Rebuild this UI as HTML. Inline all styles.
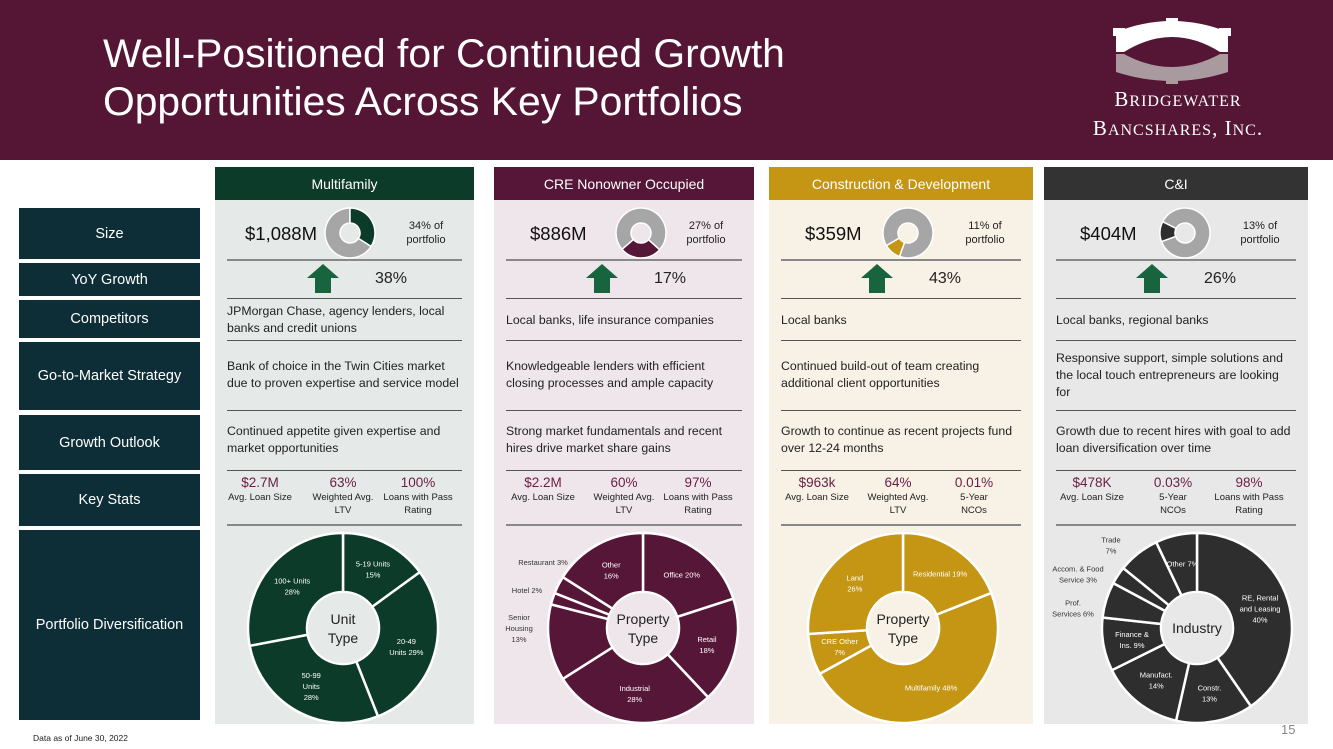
<!DOCTYPE html>
<html><head><meta charset="utf-8">
<style>
*{margin:0;padding:0;box-sizing:border-box}
body{width:1333px;height:749px;position:relative;background:#fff;font-family:"Liberation Sans",sans-serif;overflow:hidden}
.hdr{position:absolute;left:0;top:0;width:1333px;height:160px;background:#551535}
.title{position:absolute;left:103px;top:30px;color:#fff;font-size:40px;line-height:48px;transform:scaleX(1.02);transform-origin:left}
.logo{position:absolute;left:1068px;top:86px;color:#fff;font-family:"Liberation Serif",serif;font-size:21px;line-height:26px;text-align:center;width:220px;letter-spacing:1px}
.lab{position:absolute;left:19px;width:181px;background:#0d2e36;color:#fff;font-size:14.5px;display:flex;align-items:center;justify-content:center}
.col{position:absolute;top:167px;height:557px}
.ch{position:absolute;left:0;top:0;width:100%;height:33px;color:#fff;font-size:14px;display:flex;align-items:center;justify-content:center}
.cb{position:absolute;left:0;top:33px;width:100%;height:524px}
.ln{position:absolute;left:12px;right:12px;height:1px;background:#555}
.ln.g{height:2px;background:#888}
.amt{position:absolute;top:56px;font-size:18.5px;color:#111}
.pct{position:absolute;top:52px;font-size:11px;color:#222;text-align:center;line-height:14px;width:80px}
.yoy{position:absolute;top:103px;font-size:16px;color:#222}
.band{position:absolute;left:12px;right:12px;display:flex;align-items:center;font-size:12.3px;color:#222;line-height:17px}
.st{position:absolute;top:307px;text-align:center;width:76px;font-size:9.5px;line-height:13px;color:#222}
.st b{display:block;font-weight:normal;font-size:13.5px;color:#6a1d43;line-height:17px}
svg text{font-family:"Liberation Sans",sans-serif}
</style></head><body>
<div class="hdr">
<div class="title">Well-Positioned for Continued Growth<br>Opportunities Across Key Portfolios</div>
<svg style="position:absolute;left:1108px;top:18px" width="128" height="66">
<path d="M8 14 Q64 -8 120 14 L120 34 L112 34 Q64 4 16 34 L8 34Z" fill="#fff"/>
<path d="M8 36 L16 36 Q64 62 112 36 L120 36 L120 54 Q64 72 8 54Z" fill="#a89a9f"/>
<rect x="5" y="10" width="12" height="8" fill="#fff"/><rect x="111" y="10" width="12" height="8" fill="#fff"/><rect x="58" y="0" width="12" height="8" fill="#fff"/><rect x="58" y="58" width="12" height="8" fill="#a89a9f"/>
</svg>
<div class="logo">B<span style="font-size:16px">RIDGEWATER</span><br>B<span style="font-size:16px">ANCSHARES</span>, I<span style="font-size:16px">NC</span>.</div>
</div>

<div class="lab" style="top:208px;height:51px">Size</div>
<div class="lab" style="top:263px;height:33px">YoY Growth</div>
<div class="lab" style="top:300px;height:38px">Competitors</div>
<div class="lab" style="top:342px;height:68px">Go-to-Market Strategy</div>
<div class="lab" style="top:415px;height:55px">Growth Outlook</div>
<div class="lab" style="top:474px;height:52px">Key Stats</div>
<div class="lab" style="top:530px;height:190px">Portfolio Diversification</div>

<div id="cols"></div>
<svg id="charts" style="position:absolute;left:0;top:0" width="1333" height="749"></svg>

<div style="position:absolute;left:33px;top:733px;font-size:8.5px;color:#222">Data as of June 30, 2022</div>
<div style="position:absolute;left:1281px;top:722px;font-size:13px;color:#888">15</div>

<script>
// ---- data ----
const colNames=["Multifamily","CRE Nonowner Occupied","Construction & Development","C&I"];
const sizes=["$1,088M","$886M","$359M","$404M"];
const shareOfPortfolio=[34,27,11,13];
const shareStart=[0,132,200,250];
const yoyGrowth=["38%","17%","43%","26%"];
const competitors=["JPMorgan Chase, agency lenders, local banks and credit unions","Local banks, life insurance companies","Local banks","Local banks, regional banks"];
const gtm=["Bank of choice in the Twin Cities market due to proven expertise and service model","Knowledgeable lenders with efficient closing processes and ample capacity","Continued build-out of team creating additional client opportunities","Responsive support, simple solutions and the local touch entrepreneurs are looking for"];
const outlook=["Continued appetite given expertise and market opportunities","Strong market fundamentals and recent hires drive market share gains","Growth to continue as recent projects fund over 12-24 months","Growth due to recent hires with goal to add loan diversification over time"];
const statValues=[["$2.7M","63%","100%"],["$2.2M","60%","97%"],["$963k","64%","0.01%"],["$478K","0.03%","98%"]];
const statLabels=[["Avg. Loan Size","Weighted Avg.<br>LTV","Loans with Pass<br>Rating"],["Avg. Loan Size","Weighted Avg.<br>LTV","Loans with Pass<br>Rating"],["Avg. Loan Size","Weighted Avg.<br>LTV","5-Year<br>NCOs"],["Avg. Loan Size","5-Year<br>NCOs","Loans with Pass<br>Rating"]];
const centerTitles=[["Unit","Type"],["Property","Type"],["Property","Type"],["Industry"]];
const mfCats=[["5-19 Units","15%"],["20-49","Units 29%"],["50-99","Units","28%"],["100+ Units","28%"]];
const mfVals=[15,29,28,28];
const creCats=[["Office  20%"],["Retail","18%"],["Industrial","28%"],["Senior","Housing","13%"],["Hotel 2%"],["Restaurant 3%"],["Other","16%"]];
const creVals=[20,18,28,13,2,3,16];
const cdCats=[["Residential  19%"],["Multifamily 48%"],["CRE Other","7%"],["Land","26%"]];
const cdVals=[19,48,7,26];
const ciCats=[["RE, Rental","and Leasing","40%"],["Constr.","13%"],["Manufact.","14%"],["Finance &","Ins. 9%"],["Prof.","Services 6%"],["Accom. & Food","Service 3%"],["Trade","7%"],["Other 7%"]];
const ciVals=[40,13,14,9,6,3,7,7];
// ---- layout ----
const colX=[215,494,769,1044], colW=[259,260,264,264];
const hdrC=["#0d3b2a","#561637","#c49614","#333333"];
const bgC=["#e5e9e8","#efe6ec","#f8f1e6","#e8e8e8"];
const fillC=["#0d3b2a","#561637","#c49614","#2e2e2e"];
const allVals=[mfVals,creVals,cdVals,ciVals], allCats=[mfCats,creCats,cdCats,ciCats];
const cols=document.getElementById('cols');
colNames.forEach((n,i)=>{
 const c=document.createElement('div');c.className='col';
 
 
 c.style.left=colX[i]+'px';c.style.width=colW[i]+'px';
 const w=colW[i];
 const sl=i==0?[45,128,203]:i==1?[49,130,204]:[48,129,205];
 let h=`<div class="ch" style="background:${hdrC[i]}">${n}</div>
 <div class="cb" style="background:${bgC[i]}"></div>
 <div class="amt" style="left:${i==0?30:36}px">${sizes[i]}</div>
 <div class="pct" style="left:${w-88}px">${shareOfPortfolio[i]}% of<br>portfolio</div>
 <div class="ln g" style="top:92px"></div>
 <div style="position:absolute;left:92px;top:97px;width:0;height:0;border-left:16px solid transparent;border-right:16px solid transparent;border-bottom:14px solid #17643f"></div>
 <div style="position:absolute;left:100px;top:110px;width:16px;height:16px;background:#17643f"></div>
 <div class="yoy" style="left:160px">${yoyGrowth[i]}</div>
 <div class="ln" style="top:131px"></div>
 <div class="band" style="top:133px;height:40px">${competitors[i]}</div>
 <div class="ln" style="top:173px"></div>
 <div class="band" style="top:174px;height:68px">${gtm[i]}</div>
 <div class="ln" style="top:243px"></div>
 <div class="band" style="top:244px;height:58px">${outlook[i]}</div>
 <div class="ln" style="top:303px"></div>`;
 statValues[i].forEach((v,k)=>{h+=`<div class="st" style="left:${sl[k]-38}px"><b>${v}</b>${statLabels[i][k]}</div>`;});
 h+=`<div class="ln g" style="top:357px"></div>`;
 c.innerHTML=h;cols.appendChild(c);
});
const svg=document.getElementById('charts'),NS='http://www.w3.org/2000/svg';
function P(cx,cy,r,a){const t=a*Math.PI/180;return [cx+r*Math.sin(t),cy-r*Math.cos(t)];}
function slice(cx,cy,R,r,a0,a1,fill,sw){
 const p=document.createElementNS(NS,'path');
 const [x1,y1]=P(cx,cy,R,a0),[x2,y2]=P(cx,cy,R,a1),[x3,y3]=P(cx,cy,r,a1),[x4,y4]=P(cx,cy,r,a0);
 const lg=a1-a0>180?1:0;
 p.setAttribute('d',`M${x1} ${y1}A${R} ${R} 0 ${lg} 1 ${x2} ${y2}L${x3} ${y3}A${r} ${r} 0 ${lg} 0 ${x4} ${y4}Z`);
 p.setAttribute('fill',fill);p.setAttribute('stroke','#fff');p.setAttribute('stroke-width',sw);
 svg.appendChild(p);return p;
}
function txt(x,y,lines,size,col,lh){
 const t=document.createElementNS(NS,'text');t.setAttribute('x',x);t.setAttribute('y',y);t.setAttribute('text-anchor','middle');
 t.setAttribute('font-size',size);t.setAttribute('fill',col);
 lines.forEach((l,k)=>{const s=document.createElementNS(NS,'tspan');s.setAttribute('x',x);s.setAttribute('dy',k==0?0:lh);s.textContent=l;t.appendChild(s);});
 svg.appendChild(t);return t;
}
// small share donuts
const smallCx=[350,641,908,1185];
shareOfPortfolio.forEach((v,i)=>{
 const cy=233,a0=shareStart[i],a1=a0+v*3.6;
 const bg=slice(smallCx[i],cy,25,10,a1,a0+360,'#a6a6a6',1.5);
 
 
 const p=slice(smallCx[i],cy,25,10,a0,a1,fillC[i],1.5);
 
 
});
// big donuts
const bigCx=[343,643,903,1197],bigCy=628,R=95,r=36;
const outPos={ '1-3':[519,628],'1-4':[527,590],'1-5':[543,562],'3-4':[1073,608],'3-5':[1078,574],'3-6':[1111,545]};
allVals.forEach((vals,i)=>{
 const tot=vals.reduce((a,b)=>a+b,0);let a=0;
 vals.forEach((v,k)=>{
  const a0=a/tot*360,a1=(a+v)/tot*360;a+=v;
  const p=slice(bigCx[i],bigCy,R,r,a0,a1,fillC[i],2.5);
  
  
  const lines=allCats[i][k];
  let x,y,col='#fff';
  const key=i+'-'+k;
  if(outPos[key]){[x,y]=outPos[key];col='#333';}
  else{[x,y]=P(bigCx[i],bigCy,66,(a0+a1)/2);}
  const t=txt(x,y-(lines.length-1)*5.5+3,lines,7.5,col,11);
  
  
 });
 const c=document.createElementNS(NS,'circle');c.setAttribute('cx',bigCx[i]);c.setAttribute('cy',bigCy);c.setAttribute('r',r-1);c.setAttribute('fill',bgC[i]);
 svg.appendChild(c);
 const ct=centerTitles[i];
 const t=txt(bigCx[i],bigCy-(ct.length-1)*9+5,ct,14,'#222',19);
 
 
});
</script>
</body></html>
